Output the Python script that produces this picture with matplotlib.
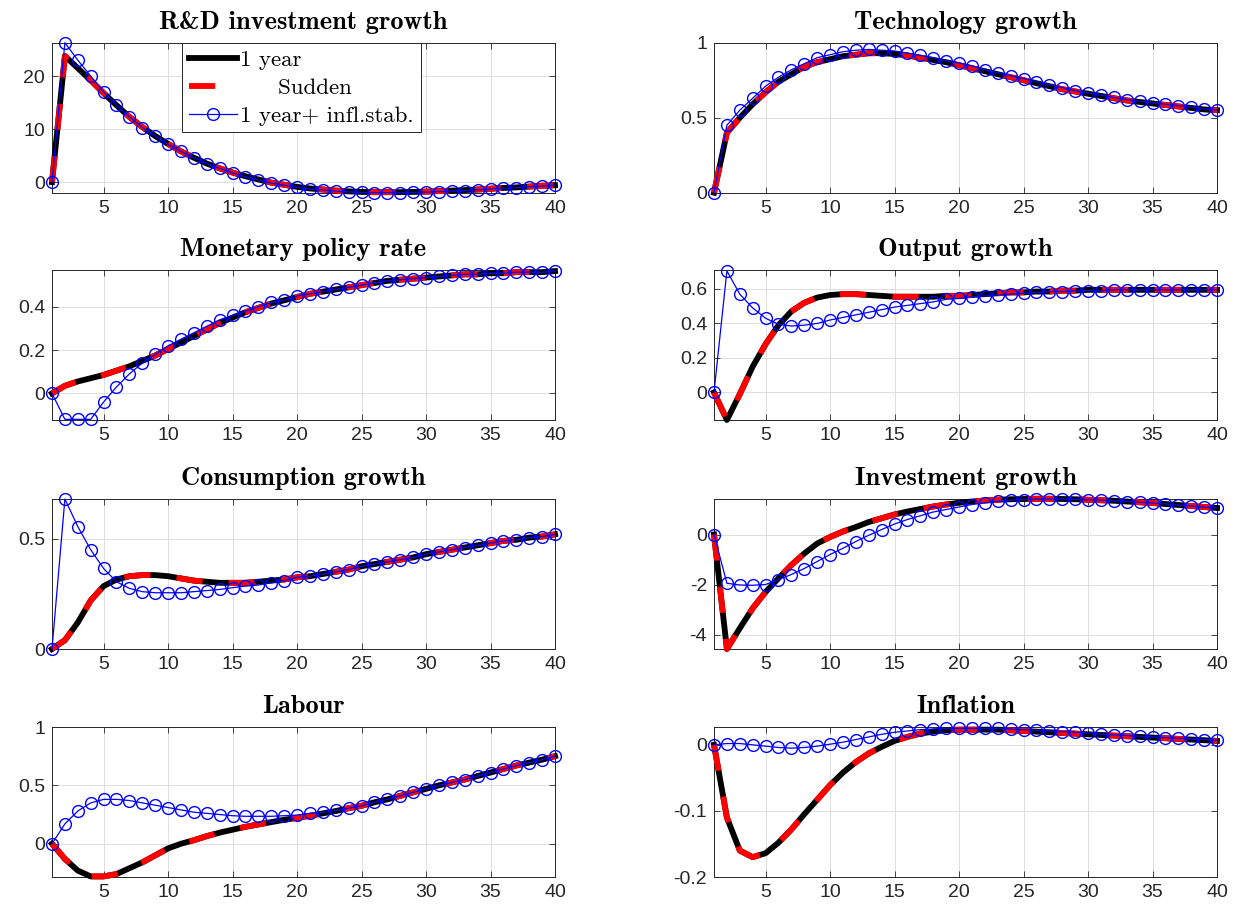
import numpy as np
import matplotlib.pyplot as plt
from matplotlib.ticker import FuncFormatter

plt.rcParams['axes.unicode_minus'] = False

x = np.arange(1, 41)

titles = ['R&D investment growth', 'Technology growth',
          'Monetary policy rate', 'Output growth',
          'Consumption growth', 'Investment growth',
          'Labour', 'Inflation']
labels = ['1 year', '     Sudden', '1 year+ infl.stab.']

# impulse responses, 40 quarters
rd_base = [0, 23.8, 21.5, 19.2, 16.8, 14.5, 12.3, 10.4, 8.7, 7.2,
           5.8, 4.6, 3.5, 2.6, 1.8, 1.1, 0.5, -0.1, -0.5, -0.9,
           -1.2, -1.4, -1.6, -1.75, -1.85, -1.9, -1.9, -1.9, -1.85, -1.8,
           -1.7, -1.6, -1.5, -1.4, -1.25, -1.1, -1.0, -0.85, -0.7, -0.6]
rd_stab = [0, 26.3, 23.0, 20.0, 17.0, 14.5, 12.3, 10.3, 8.7, 7.1,
           5.8, 4.6, 3.5, 2.6, 1.7, 1.0, 0.4, -0.2, -0.6, -1.0,
           -1.3, -1.5, -1.7, -1.85, -1.95, -2.0, -2.0, -2.0, -1.95, -1.9,
           -1.8, -1.7, -1.6, -1.45, -1.3, -1.2, -1.05, -0.9, -0.75, -0.6]

tech_base = [0, 0.4, 0.5, 0.59, 0.67, 0.74, 0.79, 0.84, 0.87, 0.89,
             0.91, 0.92, 0.93, 0.93, 0.925, 0.915, 0.9, 0.885, 0.87, 0.85,
             0.83, 0.81, 0.79, 0.77, 0.75, 0.73, 0.71, 0.69, 0.675, 0.66,
             0.645, 0.63, 0.615, 0.605, 0.595, 0.585, 0.575, 0.565, 0.555, 0.55]
tech_stab = [0, 0.45, 0.55, 0.63, 0.71, 0.77, 0.82, 0.86, 0.9, 0.92,
             0.94, 0.95, 0.955, 0.95, 0.945, 0.93, 0.915, 0.9, 0.88, 0.865,
             0.845, 0.82, 0.8, 0.78, 0.76, 0.74, 0.72, 0.7, 0.68, 0.665,
             0.65, 0.635, 0.62, 0.61, 0.6, 0.59, 0.58, 0.57, 0.56, 0.55]

rate_base = [0, 0.035, 0.055, 0.07, 0.085, 0.105, 0.125, 0.15, 0.175, 0.205,
             0.235, 0.265, 0.295, 0.325, 0.35, 0.375, 0.395, 0.415, 0.43, 0.445,
             0.46, 0.47, 0.48, 0.49, 0.5, 0.51, 0.52, 0.525, 0.53, 0.535,
             0.54, 0.545, 0.55, 0.55, 0.555, 0.555, 0.56, 0.56, 0.56, 0.565]
rate_stab = [0, -0.12, -0.12, -0.12, -0.04, 0.03, 0.09, 0.14, 0.18, 0.22,
             0.25, 0.28, 0.31, 0.34, 0.36, 0.38, 0.4, 0.42, 0.43, 0.45,
             0.46, 0.47, 0.48, 0.49, 0.5, 0.51, 0.52, 0.525, 0.53, 0.535,
             0.54, 0.545, 0.55, 0.55, 0.555, 0.555, 0.56, 0.56, 0.56, 0.565]

output_base = [0, -0.16, -0.01, 0.15, 0.28, 0.39, 0.47, 0.52, 0.55, 0.565,
               0.57, 0.57, 0.565, 0.56, 0.555, 0.555, 0.555, 0.555, 0.56, 0.56,
               0.565, 0.57, 0.575, 0.58, 0.58, 0.585, 0.585, 0.59, 0.59, 0.595,
               0.595, 0.595, 0.595, 0.595, 0.595, 0.595, 0.595, 0.595, 0.595, 0.595]
output_stab = [0, 0.705, 0.57, 0.49, 0.43, 0.395, 0.385, 0.39, 0.4, 0.42,
               0.435, 0.45, 0.465, 0.48, 0.495, 0.505, 0.515, 0.525, 0.54, 0.545,
               0.555, 0.56, 0.565, 0.57, 0.575, 0.58, 0.585, 0.585, 0.59, 0.59,
               0.59, 0.595, 0.595, 0.595, 0.595, 0.595, 0.595, 0.595, 0.595, 0.595]

cons_base = [0, 0.04, 0.12, 0.22, 0.285, 0.315, 0.33, 0.335, 0.335, 0.33,
             0.32, 0.31, 0.305, 0.3, 0.3, 0.3, 0.305, 0.31, 0.315, 0.325,
             0.33, 0.34, 0.35, 0.36, 0.375, 0.385, 0.395, 0.405, 0.415, 0.43,
             0.44, 0.45, 0.46, 0.47, 0.48, 0.49, 0.495, 0.505, 0.51, 0.52]
cons_stab = [0, 0.68, 0.555, 0.45, 0.365, 0.305, 0.275, 0.26, 0.255, 0.255,
             0.255, 0.26, 0.265, 0.27, 0.278, 0.285, 0.29, 0.3, 0.31, 0.325,
             0.33, 0.34, 0.35, 0.36, 0.375, 0.385, 0.395, 0.405, 0.415, 0.43,
             0.44, 0.45, 0.46, 0.47, 0.48, 0.49, 0.495, 0.505, 0.51, 0.52]

inv_base = [0, -4.58, -3.75, -2.95, -2.3, -1.75, -1.22, -0.76, -0.36, -0.1,
            0.12, 0.3, 0.5, 0.65, 0.8, 0.92, 1.02, 1.12, 1.2, 1.27,
            1.32, 1.36, 1.39, 1.41, 1.42, 1.43, 1.43, 1.42, 1.41, 1.39,
            1.37, 1.35, 1.32, 1.29, 1.26, 1.22, 1.18, 1.14, 1.1, 1.06]
inv_stab = [0, -1.95, -2.02, -2.03, -2.0, -1.8, -1.6, -1.36, -1.08, -0.8,
            -0.55, -0.28, -0.03, 0.2, 0.42, 0.6, 0.75, 0.9, 1.0, 1.1,
            1.2, 1.27, 1.33, 1.37, 1.4, 1.42, 1.42, 1.42, 1.41, 1.39,
            1.37, 1.35, 1.32, 1.29, 1.26, 1.22, 1.18, 1.14, 1.1, 1.06]

lab_base = [0, -0.13, -0.23, -0.28, -0.28, -0.26, -0.21, -0.16, -0.1, -0.04,
            0.0, 0.03, 0.065, 0.095, 0.12, 0.145, 0.165, 0.185, 0.205, 0.222,
            0.24, 0.26, 0.28, 0.305, 0.325, 0.355, 0.38, 0.41, 0.44, 0.47,
            0.5, 0.525, 0.55, 0.58, 0.61, 0.64, 0.67, 0.695, 0.72, 0.75]
lab_stab = [0, 0.17, 0.28, 0.35, 0.38, 0.38, 0.37, 0.35, 0.33, 0.31,
            0.29, 0.27, 0.26, 0.25, 0.24, 0.235, 0.235, 0.235, 0.24, 0.245,
            0.26, 0.27, 0.285, 0.305, 0.325, 0.355, 0.38, 0.41, 0.44, 0.47,
            0.5, 0.525, 0.55, 0.58, 0.61, 0.64, 0.67, 0.695, 0.72, 0.75]

infl_base = [0, -0.11, -0.16, -0.17, -0.164, -0.148, -0.128, -0.105, -0.083, -0.061,
             -0.042, -0.026, -0.013, -0.003, 0.006, 0.012, 0.017, 0.02, 0.022, 0.023,
             0.023, 0.023, 0.023, 0.022, 0.021, 0.02, 0.019, 0.018, 0.017, 0.016,
             0.015, 0.014, 0.013, 0.012, 0.011, 0.01, 0.009, 0.008, 0.007, 0.006]
infl_stab = [0, 0.002, 0.002, 0.0, -0.002, -0.004, -0.005, -0.004, -0.002, 0.001,
             0.004, 0.008, 0.012, 0.016, 0.019, 0.021, 0.023, 0.024, 0.025, 0.025,
             0.025, 0.025, 0.025, 0.024, 0.023, 0.022, 0.021, 0.02, 0.019, 0.018,
             0.016, 0.015, 0.014, 0.013, 0.012, 0.011, 0.01, 0.009, 0.008, 0.007]

one_year = [rd_base, tech_base, rate_base, output_base,
            cons_base, inv_base, lab_base, infl_base]
sudden = [rd_base, tech_base, rate_base, output_base,
          cons_base, inv_base, lab_base, infl_base]
infl_stab_rule = [rd_stab, tech_stab, rate_stab, output_stab,
                  cons_stab, inv_stab, lab_stab, infl_stab]

ylims = [(-2.0, 26.3), (0, 1), (-0.123, 0.57), (-0.16, 0.71),
         (0, 0.68), (-4.58, 1.42), (-0.285, 1.0), (-0.2, 0.027)]
yticks = [[0, 10, 20], [0, 0.5, 1], [0, 0.2, 0.4], [0, 0.2, 0.4, 0.6],
          [0, 0.5], [-4, -2, 0], [0, 0.5, 1], [-0.2, -0.1, 0]]

W, H = 1245, 916
fig = plt.figure(figsize=(W / 100, H / 100), dpi=100)

col_left = [52, 714]
row_top = [42.7, 270, 499, 727]
ax_w, ax_h = 503, 150

tick_font = 'Liberation Sans'
edge = '#262626'

for i in range(8):
    r, c = divmod(i, 2)
    ax = fig.add_axes([col_left[c] / W, 1 - (row_top[r] + ax_h) / H, ax_w / W, ax_h / H])

    l1, = ax.plot(x, one_year[i], color='k', lw=4.2, solid_joinstyle='round',
                  clip_on=False, zorder=3)
    l2, = ax.plot(x, sudden[i], color='r', lw=4.2, dashes=(4.5, 4.5),
                  dash_capstyle='butt', clip_on=False, zorder=4)
    l3, = ax.plot(x, infl_stab_rule[i], color='b', lw=0.9, marker='o', ms=8.5,
                  mfc='none', mec='b', mew=1.0, clip_on=False, zorder=5)

    ax.set_xlim(1, 40)
    ax.set_ylim(*ylims[i])
    ax.set_xticks(range(5, 41, 5))
    ax.set_yticks(yticks[i])
    ax.yaxis.set_major_formatter(FuncFormatter(lambda v, p: '%g' % v))
    ax.grid(True, color='#dfdfdf', lw=0.7)
    ax.set_axisbelow(True)
    ax.tick_params(direction='in', length=4, width=0.6, colors=edge,
                   labelsize=14, top=True, right=True, pad=5)
    for lab in ax.get_xticklabels() + ax.get_yticklabels():
        lab.set_fontfamily(tick_font)
    for s in ax.spines.values():
        s.set_color(edge)
        s.set_linewidth(0.7)

    ax.set_title(titles[i], fontfamily='cmb10', fontsize=19, pad=10)

    if i == 0:
        leg = ax.legend([l1, l2, l3], labels, loc='upper left',
                        bbox_to_anchor=(0.258, 0.995), borderaxespad=0,
                        prop={'family': 'cmr10', 'size': 16.5},
                        handlelength=2.1, handletextpad=0.15, borderpad=0.3,
                        labelspacing=0.33, fancybox=False, framealpha=1)
        leg.get_frame().set_edgecolor(edge)
        leg.get_frame().set_linewidth(0.7)

fig.savefig('out.png', dpi=100, facecolor='white')
